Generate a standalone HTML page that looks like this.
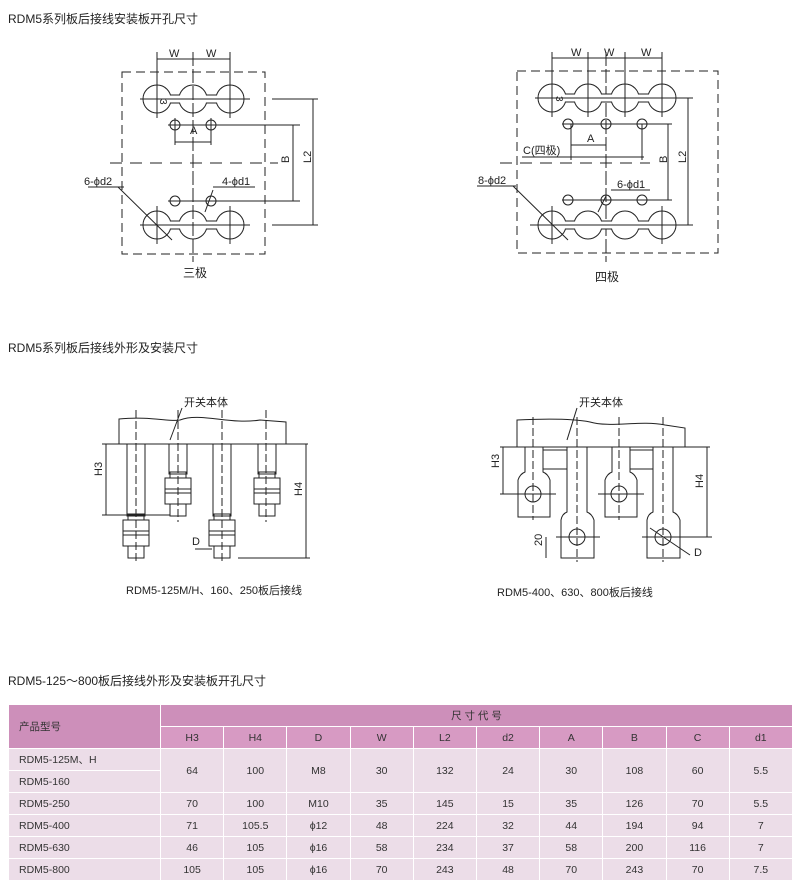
<!DOCTYPE html>
<html><head><meta charset="utf-8"><style>
body{margin:0;background:#fff;width:800px;height:895px;overflow:hidden;position:relative;font-family:"Liberation Sans","Noto Sans CJK SC",sans-serif;}
.t{position:absolute;font-size:12px;color:#222;}
svg{position:absolute;left:0;top:0}
table{position:absolute;left:8px;top:704px;border-collapse:collapse;width:784px;table-layout:fixed;font-size:10.5px;color:#333;}
td{border:1.5px solid #fff;text-align:center;height:21px;padding:0;}
.h{background:#cd8fba;}
.b{background:#ecdde8;}
.l{text-align:left;padding-left:10px;}
</style></head><body>
<div class="t" style="left:8px;top:10px">RDM5系列板后接线安装板开孔尺寸</div>
<div class="t" style="left:8px;top:339px">RDM5系列板后接线外形及安装尺寸</div>
<div class="t" style="left:8px;top:672px">RDM5-125～800板后接线外形及安装板开孔尺寸</div>
<svg width="800" height="700" viewBox="0 0 800 700" font-family="Liberation Sans, Noto Sans CJK SC, sans-serif" font-size="11" fill="none" stroke="#222" stroke-width="1">
<rect x="122" y="72" width="143" height="182" stroke-dasharray="9,5"/>
<line x1="110" y1="163" x2="278" y2="163" stroke-dasharray="12,8"/>
<line x1="193" y1="52" x2="193" y2="262" stroke-dasharray="14,3"/>
<g>
<circle cx="157" cy="99" r="14"/><circle cx="193" cy="99" r="14"/><circle cx="230" cy="99" r="14"/>
<circle cx="157" cy="225" r="14"/><circle cx="193" cy="225" r="14"/><circle cx="230" cy="225" r="14"/>
<rect x="170" y="95" width="10" height="8" fill="#fff" stroke="none"/><rect x="206" y="95" width="11" height="8" fill="#fff" stroke="none"/>
<rect x="170" y="221" width="10" height="8" fill="#fff" stroke="none"/><rect x="206" y="221" width="11" height="8" fill="#fff" stroke="none"/>
<line x1="170" y1="95" x2="180" y2="95"/><line x1="170" y1="103" x2="180" y2="103"/><line x1="206" y1="95" x2="217" y2="95"/><line x1="206" y1="103" x2="217" y2="103"/>
<line x1="170" y1="221" x2="180" y2="221"/><line x1="170" y1="229" x2="180" y2="229"/><line x1="206" y1="221" x2="217" y2="221"/><line x1="206" y1="229" x2="217" y2="229"/>
<line x1="140" y1="99" x2="250" y2="99"/><line x1="140" y1="225" x2="250" y2="225"/>
<line x1="157" y1="52" x2="157" y2="118"/><line x1="230" y1="52" x2="230" y2="118"/>
<line x1="157" y1="206" x2="157" y2="244"/><line x1="230" y1="206" x2="230" y2="244"/>
<circle cx="175" cy="125" r="5"/><circle cx="211" cy="125" r="5"/><circle cx="175" cy="201" r="5"/><circle cx="211" cy="201" r="5"/>
<line x1="168" y1="125" x2="300" y2="125"/><line x1="168" y1="201" x2="300" y2="201"/>
<line x1="175" y1="118" x2="175" y2="145"/><line x1="211" y1="118" x2="211" y2="145"/>
<line x1="175" y1="142" x2="211" y2="142"/>
<line x1="157" y1="59" x2="230" y2="59"/>
<line x1="293" y1="125" x2="293" y2="201"/>
<line x1="272" y1="99" x2="318" y2="99"/><line x1="272" y1="225" x2="318" y2="225"/>
<line x1="313" y1="99" x2="313" y2="225"/>
<line x1="88" y1="187" x2="124" y2="187"/><line x1="118" y1="187" x2="172" y2="240"/>
<line x1="213" y1="187" x2="255" y2="187"/><line x1="213" y1="190" x2="205" y2="212"/>
</g>
<g fill="#222" stroke="none">
<text x="169" y="57">W</text><text x="206" y="57">W</text>
<text x="190" y="134">A</text>
<text x="164" y="103" font-size="10" transform="rotate(90 164 99)">3</text>
<text x="289" y="163" transform="rotate(-90 289 163)">B</text>
<text x="309" y="165" transform="rotate(-90 309 163)">L2</text>
<text x="84" y="185">6-ϕd2</text><text x="222" y="185">4-ϕd1</text>
<text x="183" y="277" font-size="12">三极</text>
</g>
<rect x="517" y="71" width="201" height="182" stroke-dasharray="9,5"/>
<line x1="500" y1="163" x2="650" y2="163" stroke-dasharray="12,8"/>
<line x1="606" y1="52" x2="606" y2="262" stroke-dasharray="14,3"/>
<circle cx="552" cy="98" r="14"/><circle cx="588" cy="98" r="14"/><circle cx="625" cy="98" r="14"/><circle cx="662" cy="98" r="14"/>
<circle cx="552" cy="225" r="14"/><circle cx="588" cy="225" r="14"/><circle cx="625" cy="225" r="14"/><circle cx="662" cy="225" r="14"/>
<g fill="#fff" stroke="none"><rect x="565" y="94" width="10" height="8"/><rect x="601" y="94" width="11" height="8"/><rect x="638" y="94" width="11" height="8"/>
<rect x="565" y="221" width="10" height="8"/><rect x="601" y="221" width="11" height="8"/><rect x="638" y="221" width="11" height="8"/></g>
<line x1="565" y1="94" x2="575" y2="94"/><line x1="565" y1="102" x2="575" y2="102"/><line x1="601" y1="94" x2="612" y2="94"/><line x1="601" y1="102" x2="612" y2="102"/><line x1="638" y1="94" x2="649" y2="94"/><line x1="638" y1="102" x2="649" y2="102"/>
<line x1="565" y1="221" x2="575" y2="221"/><line x1="565" y1="229" x2="575" y2="229"/><line x1="601" y1="221" x2="612" y2="221"/><line x1="601" y1="229" x2="612" y2="229"/><line x1="638" y1="221" x2="649" y2="221"/><line x1="638" y1="229" x2="649" y2="229"/>
<line x1="535" y1="98" x2="680" y2="98"/><line x1="530" y1="225" x2="680" y2="225"/>
<line x1="552" y1="52" x2="552" y2="117"/><line x1="588" y1="52" x2="588" y2="117"/><line x1="625" y1="52" x2="625" y2="117"/><line x1="662" y1="52" x2="662" y2="117"/>
<line x1="552" y1="206" x2="552" y2="244"/><line x1="662" y1="206" x2="662" y2="244"/>
<line x1="552" y1="58" x2="662" y2="58"/>
<circle cx="568" cy="124" r="5"/><circle cx="606" cy="124" r="5"/><circle cx="642" cy="124" r="5"/>
<circle cx="568" cy="200" r="5"/><circle cx="606" cy="200" r="5"/><circle cx="642" cy="200" r="5"/>
<line x1="562" y1="124" x2="672" y2="124"/><line x1="562" y1="200" x2="672" y2="200"/>
<line x1="571" y1="124" x2="571" y2="160"/><line x1="642" y1="124" x2="642" y2="160"/>
<line x1="571" y1="145" x2="606" y2="145"/><line x1="522" y1="157" x2="644" y2="157"/>
<line x1="668" y1="124" x2="668" y2="200"/>
<line x1="676" y1="98" x2="693" y2="98"/><line x1="676" y1="225" x2="693" y2="225"/><line x1="688" y1="98" x2="688" y2="225"/>
<line x1="477" y1="186" x2="516" y2="186"/><line x1="513" y1="186" x2="568" y2="240"/>
<line x1="611" y1="190" x2="650" y2="190"/><line x1="606" y1="196" x2="598" y2="212"/>
<g fill="#222" stroke="none">
<text x="571" y="56">W</text><text x="604" y="56">W</text><text x="641" y="56">W</text>
<text x="587" y="142">A</text><text x="523" y="154">C(四极)</text>
<text x="558" y="102" font-size="10" transform="rotate(90 560 98)">3</text>
<text x="664" y="166" transform="rotate(-90 664 163)">B</text>
<text x="684" y="165" transform="rotate(-90 684 163)">L2</text>
<text x="478" y="184">8-ϕd2</text><text x="617" y="188">6-ϕd1</text>
<text x="595" y="281" font-size="12">四极</text>
</g>
<path d="M119,419 C150,416 170,422 180,420 C200,412 230,425 260,420 L286,422 L286,444 L119,444 Z"/>
<line x1="102" y1="444" x2="308" y2="444"/>
<text x="184" y="406" fill="#222" stroke="none">开关本体</text>
<line x1="182" y1="408" x2="170" y2="440"/>
<rect x="127" y="444" width="18" height="72"/>
<rect x="169" y="444" width="18" height="30"/><rect x="213" y="444" width="18" height="72"/><rect x="258" y="444" width="18" height="30"/>
<g>
<rect x="123" y="520" width="26" height="26"/><rect x="128" y="514" width="16" height="6"/><rect x="128" y="546" width="16" height="12"/>
<rect x="165" y="478" width="26" height="26"/><rect x="170" y="472" width="16" height="6"/><rect x="170" y="504" width="16" height="12"/>
<rect x="209" y="520" width="26" height="26"/><rect x="214" y="514" width="16" height="6"/><rect x="214" y="546" width="16" height="12"/>
<rect x="254" y="478" width="26" height="26"/><rect x="259" y="472" width="16" height="6"/><rect x="259" y="504" width="16" height="12"/>
<line x1="123" y1="531" x2="149" y2="531"/><line x1="123" y1="535" x2="149" y2="535"/>
<line x1="165" y1="489" x2="191" y2="489"/><line x1="165" y1="493" x2="191" y2="493"/>
<line x1="209" y1="531" x2="235" y2="531"/><line x1="209" y1="535" x2="235" y2="535"/>
<line x1="254" y1="489" x2="280" y2="489"/><line x1="254" y1="493" x2="280" y2="493"/>
</g>
<g stroke-dasharray="8,3"><line x1="136" y1="410" x2="136" y2="564"/><line x1="178" y1="410" x2="178" y2="522"/><line x1="222" y1="410" x2="222" y2="564"/><line x1="266" y1="410" x2="266" y2="522"/></g>
<line x1="102" y1="515" x2="170" y2="515"/><line x1="106" y1="444" x2="106" y2="515"/>
<line x1="238" y1="558" x2="310" y2="558"/><line x1="306" y1="444" x2="306" y2="558"/>
<line x1="195" y1="549" x2="212" y2="549"/>
<g fill="#222" stroke="none">
<text x="102" y="480" transform="rotate(-90 100 478)">H3</text>
<text x="302" y="500" transform="rotate(-90 300 498)">H4</text>
<text x="192" y="545">D</text>
<text x="126" y="594" font-size="11">RDM5-125M/H、160、250板后接线</text>
</g>
<path d="M517,420 C560,418 580,420 590,422 C610,428 640,420 665,425 L685,428 L685,447 L517,447 Z"/>
<line x1="500" y1="447" x2="710" y2="447"/>
<text x="579" y="406" fill="#222" stroke="none">开关本体</text>
<line x1="577" y1="408" x2="567" y2="440"/>
<path d="M525,447 V472 Q520,474 518,480 V517 H550 V480 Q548,474 543,472 V447 Z"/>
<circle cx="533" cy="494" r="8"/>
<path d="M567,447 V512 Q562,514 561,520 V558 H594 V520 Q592,514 587,512 V447 Z"/>
<circle cx="577" cy="537" r="8"/>
<path d="M612,447 V472 Q607,474 605,480 V517 H637 V480 Q635,474 630,472 V447 Z"/>
<circle cx="619" cy="494" r="8"/>
<path d="M653,447 V512 Q648,514 647,520 V558 H680 V520 Q678,514 673,512 V447 Z"/>
<circle cx="663" cy="537" r="8"/>
<rect x="543" y="450" width="24" height="19"/><rect x="630" y="450" width="23" height="19"/>
<line x1="500" y1="494" x2="556" y2="494"/><line x1="598" y1="494" x2="644" y2="494"/>
<line x1="556" y1="537" x2="600" y2="537"/><line x1="642" y1="537" x2="712" y2="537"/>
<g stroke-dasharray="8,3"><line x1="533" y1="417" x2="533" y2="520"/><line x1="577" y1="417" x2="577" y2="562"/><line x1="619" y1="417" x2="619" y2="520"/><line x1="663" y1="417" x2="663" y2="562"/></g>
<line x1="503" y1="447" x2="503" y2="494"/><line x1="707" y1="447" x2="707" y2="537"/>
<line x1="546" y1="537" x2="546" y2="558"/>
<line x1="650" y1="528" x2="690" y2="555"/>
<g fill="#222" stroke="none">
<text x="499" y="472" transform="rotate(-90 497 470)">H3</text>
<text x="703" y="492" transform="rotate(-90 701 490)">H4</text>
<text x="542" y="550" transform="rotate(-90 540 548)">20</text>
<text x="694" y="556">D</text>
<text x="497" y="596" font-size="11">RDM5-400、630、800板后接线</text>
</g>
</svg>
<table>
<colgroup><col style="width:152px"><col span="10" style="width:63.2px"></colgroup>
<tr class="h"><td rowspan="2" class="l">产品型号</td><td colspan="10">尺 寸 代 号</td></tr>
<tr class="h" style="background:#d79ac3"><td>H3</td><td>H4</td><td>D</td><td>W</td><td>L2</td><td>d2</td><td>A</td><td>B</td><td>C</td><td>d1</td></tr>
<tr class="b"><td class="l">RDM5-125M、H</td><td rowspan="2">64</td><td rowspan="2">100</td><td rowspan="2">M8</td><td rowspan="2">30</td><td rowspan="2">132</td><td rowspan="2">24</td><td rowspan="2">30</td><td rowspan="2">108</td><td rowspan="2">60</td><td rowspan="2">5.5</td></tr>
<tr class="b"><td class="l">RDM5-160</td></tr>
<tr class="b"><td class="l">RDM5-250</td><td>70</td><td>100</td><td>M10</td><td>35</td><td>145</td><td>15</td><td>35</td><td>126</td><td>70</td><td>5.5</td></tr>
<tr class="b"><td class="l">RDM5-400</td><td>71</td><td>105.5</td><td>ϕ12</td><td>48</td><td>224</td><td>32</td><td>44</td><td>194</td><td>94</td><td>7</td></tr>
<tr class="b"><td class="l">RDM5-630</td><td>46</td><td>105</td><td>ϕ16</td><td>58</td><td>234</td><td>37</td><td>58</td><td>200</td><td>116</td><td>7</td></tr>
<tr class="b"><td class="l">RDM5-800</td><td>105</td><td>105</td><td>ϕ16</td><td>70</td><td>243</td><td>48</td><td>70</td><td>243</td><td>70</td><td>7.5</td></tr>
</table>
</body></html>
